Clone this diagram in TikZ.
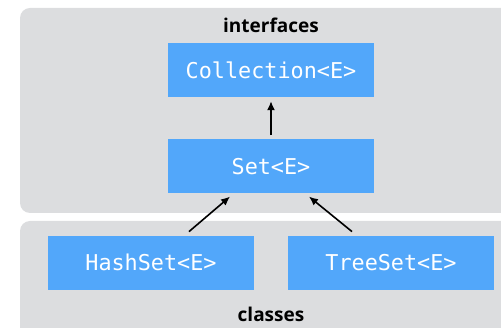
\documentclass[tikz,border=0pt]{standalone}
\usepackage{fontspec}
\setmainfont{Open Sans}
\setmonofont{DejaVu Sans Mono}
\usepackage{tikz}
\usetikzlibrary{positioning, arrows.meta}

\definecolor{panelgray}{RGB}{220,221,223}
\definecolor{boxblue}{RGB}{82,167,250}

\tikzset{
	panel/.style={fill=panelgray, rounded corners=10pt},
	typebox/.style={fill=boxblue, text=white, minimum width=206pt, minimum height=54pt, inner sep=0pt, font=\fontsize{21.8}{22}\selectfont\ttfamily},
	grouplabel/.style={font=\fontsize{19}{19}\selectfont\bfseries},
	extends/.style={-{Latex[length=9pt,width=8pt]}, line width=1.6pt}
}

\begin{document}
\begin{tikzpicture}[x=1pt, y=-1pt]
	\useasboundingbox (0,0) rectangle (501,328);
	% the two groups
	\fill[panel] (20,8) rectangle (530,213);
	\fill[panel] (20,221) rectangle (530,360);

	\node[grouplabel] (ifaces) at (271,25) {interfaces};
	\node[grouplabel] (classes) at (271,314) {classes};

	\node[typebox] (coll) at (271,70) {Collection<E>};
	\node[typebox, below=42pt of coll] (set) {Set<E>};
	\node[typebox, below=42pt of set, xshift=-120pt] (hash) {HashSet<E>};
	\node[typebox, below=42pt of set, xshift=120pt] (tree) {TreeSet<E>};

	\draw[extends] ([yshift=4pt]set.north) -- ([yshift=-4pt]coll.south);
	\draw[extends] ([xshift=38pt, yshift=4pt]hash.north) -- ([xshift=-41pt, yshift=-3pt]set.south);
	\draw[extends] ([xshift=-39pt, yshift=4pt]tree.north) -- ([xshift=38pt, yshift=-3pt]set.south);
\end{tikzpicture}
\end{document}
